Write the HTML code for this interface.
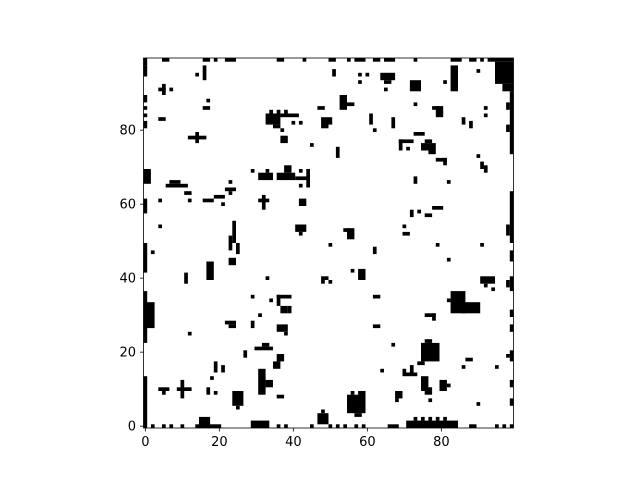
<!DOCTYPE html>
<html><head><meta charset="utf-8"><style>
html,body{margin:0;padding:0;background:#fff;}
svg{display:block;font-family:"DejaVu Sans","Liberation Sans",sans-serif;}
</style></head><body>
<svg id="chart" width="640" height="480" viewBox="0 0 640 480" xmlns="http://www.w3.org/2000/svg">
<rect x="143.5" y="58" width="370" height="370" fill="#fff"/>
<g id="cells"></g>
<rect x="143.5" y="58" width="370" height="370" fill="none" stroke="#000" stroke-width="0.8"/>
<g id="xticks"></g>
<g id="yticks"></g>
</svg>
<script>
// filled blocks as [column, bottom row, width, height] in cell units
const blocksTopLeft = [[0,98,1,2],[0,95,1,3],[0,88,1,2],[0,86,1,1],[0,84,1,1],[0,81,1,2],
[5,99,2,1],[16,99,2,1],[19,99,1,1],[22,99,3,1],[36,99,2,1],[43,99,1,1],
[14,95,1,1],[16,94,1,4],[4,91,2,1],[5,90,1,3],[7,91,1,1],
[17,88,1,1],[16,86,2,1],[4,83,2,1],
[33,82,4,3],[34,85,1,1],[36,85,1,1],[38,85,1,1],[37,84,5,1],[35,81,2,1],
[40,82,1,1],[42,82,1,1],[37,80,1,1],[47,86,2,1],[48,81,2,3],
[12,78,5,1],[14,77,1,3],[37,77,2,2],[45,76,1,1],
[29,69,1,1],[31,67,4,2],[33,69,1,1],[36,67,5,2],[38,69,2,2],[41,67,4,1],[44,65,1,5],[42,69,1,1],[42,65,1,1],
[6,65,6,1],[7,66,3,1],[11,63,2,1],[23,66,1,1],[22,64,3,1],[23,63,1,1],[19,62,3,1],
[4,61,1,1],[12,61,1,1],[16,61,3,1],[21,60,1,1],[31,61,3,1],[32,59,1,4],[42,60,2,2],[0,58,1,4],
[4,54,1,1],[24,50,1,6],[23,50,1,2],[41,53,3,2],[42,52,1,1],[0,66,2,4]];
const blocksTopRight = [[50,99,2,1],[55,99,1,1],[57,99,3,1],[62,99,2,1],[65,99,3,1],[73,99,1,1],[83,99,3,1],[88,99,2,1],[91,99,1,1],[93,99,7,1],
[95,93,5,6],[97,91,3,2],[99,74,1,17],[98,86,1,2],[98,80,1,2],
[51,95,1,2],[58,95,1,1],[60,95,1,1],[58,93,1,1],[64,94,4,2],[65,93,2,1],[65,91,1,1],
[72,91,3,3],[81,93,1,1],[83,91,2,7],[90,96,1,1],
[53,86,2,4],[55,87,2,1],[73,87,1,1],[78,86,2,1],[79,84,2,3],
[92,86,1,1],[92,84,1,1],[50,82,1,2],[61,82,1,3],[67,81,1,3],[86,82,1,2],[88,81,1,2],[62,80,1,1],
[73,79,3,1],[69,75,1,3],[69,77,4,1],[71,75,1,1],[75,75,4,2],[76,77,2,1],[77,74,2,1],
[79,72,3,1],[81,71,1,2],[52,73,1,3],[90,73,1,1],[91,70,1,2],[92,69,1,2],
[73,66,1,2],[82,66,1,1],[78,59,3,1],[72,57,1,2],[74,58,1,1],[76,57,2,1],
[54,53,2,1],[55,51,2,3],[70,54,1,1],[70,52,2,1],[99,50,1,14],[98,52,1,3]];
const blocksBottomLeft = [[0,42,1,8],[0,23,1,14],[0,27,3,7],[0,10,1,4],[0,0,1,10],
[2,47,1,1],[23,48,1,2],[25,47,1,3],[23,44,2,2],[17,40,2,5],[11,39,1,3],[33,40,1,1],
[36,35,4,1],[36,33,1,3],[37,31,2,2],[39,31,1,2],[29,35,1,1],[34,34,1,1],[31,30,1,1],
[22,28,3,1],[23,27,2,1],[29,27,1,2],[36,26,3,2],[38,25,1,1],[12,25,1,1],[48,40,2,1],[48,39,1,1],
[30,21,5,1],[32,22,2,1],[27,19,1,2],[35,16,2,2],[36,18,2,2],
[19,15,1,3],[21,15,1,2],[31,9,2,7],[33,11,2,2],[18,13,1,1],
[4,10,3,1],[5,9,1,1],[9,10,4,1],[10,8,1,5],[17,9,1,2],[19,9,1,1],
[24,6,3,4],[25,5,1,1],[36,8,2,1],[47,1,3,3],[48,4,1,1],
[15,0,3,3],[14,0,7,1],[29,0,5,2],[2,0,1,1],[5,0,1,1],[7,0,1,1],[10,0,1,1],[36,0,1,1],[38,0,1,1],[45,0,1,1]];
const blocksBottomRight = [[50,49,1,1],[62,47,1,2],[79,49,1,1],[91,49,1,1],[82,45,1,1],[56,42,1,1],[58,40,2,3],[50,39,1,1],
[91,39,4,2],[92,38,1,1],[94,37,1,1],[62,35,2,1],[83,31,4,6],[86,31,5,3],[82,34,1,1],
[76,30,3,1],[78,29,1,2],[62,27,2,1],[67,22,1,1],[75,18,5,5],[76,23,2,1],[74,17,2,1],[87,18,2,1],[86,16,1,1],[95,16,1,1],[64,15,1,1],
[70,14,4,1],[70,15,1,1],[72,15,1,2],[75,10,2,4],[76,9,2,2],[80,10,2,3],[82,11,1,1],[77,7,1,1],
[68,8,2,2],[68,7,1,1],[55,4,5,5],[58,8,2,2],[57,3,2,1],[56,9,1,1],[90,6,1,1],
[71,0,14,2],[73,2,1,1],[75,2,1,1],[77,2,1,1],[79,2,1,1],[81,2,1,1],
[50,0,1,1],[52,0,1,1],[54,0,1,1],[57,0,1,1],[59,0,1,1],[66,0,3,1],[88,0,2,1],[95,0,1,1],[97,0,1,1],
[99,45,1,3],[99,37,1,4],[98,38,1,2],[99,18,1,3],[98,19,1,1],[99,11,1,2],[99,6,1,2],[99,0,1,1],[99,26,1,2],[99,30,1,2]];
const xTickVals = [0,20,40,60,80];
const yTickVals = [0,20,40,60,80];

const ns = "http://www.w3.org/2000/svg";
const X0 = 143.5, Y0 = 428, CELL = 3.7;
const xScale = c => X0 + c * CELL;          // left edge of column c
const yScale = r => Y0 - r * CELL;          // bottom edge of row r
const xCenter = c => xScale(c + 0.5);
const yCenter = r => yScale(r + 0.5);

const cells = document.getElementById('cells');
[blocksTopLeft, blocksTopRight, blocksBottomLeft, blocksBottomRight].forEach(list => {
  list.forEach(b => {
    const r = document.createElementNS(ns, 'rect');
    
    
    r.setAttribute('x', xScale(b[0]));
    r.setAttribute('y', yScale(b[1] + b[3]));
    r.setAttribute('width', b[2] * CELL);
    r.setAttribute('height', b[3] * CELL);
    r.setAttribute('fill', '#000');
    cells.appendChild(r);
  });
});

const xt = document.getElementById('xticks');
xTickVals.forEach(v => {
  const x = xCenter(v);
  const l = document.createElementNS(ns, 'line');
  
  
  l.setAttribute('x1', x); l.setAttribute('x2', x);
  l.setAttribute('y1', 428); l.setAttribute('y2', 431.5);
  l.setAttribute('stroke', '#000'); l.setAttribute('stroke-width', '0.8');
  xt.appendChild(l);
  const t = document.createElementNS(ns, 'text');
  
  
  t.setAttribute('x', x); t.setAttribute('y', 446);
  t.setAttribute('text-anchor', 'middle'); t.setAttribute('font-size', '13');
  t.textContent = v;
  xt.appendChild(t);
});

const yt = document.getElementById('yticks');
yTickVals.forEach(v => {
  const y = yCenter(v);
  const l = document.createElementNS(ns, 'line');
  
  
  l.setAttribute('x1', 140); l.setAttribute('x2', 143.5);
  l.setAttribute('y1', y); l.setAttribute('y2', y);
  l.setAttribute('stroke', '#000'); l.setAttribute('stroke-width', '0.8');
  yt.appendChild(l);
  const t = document.createElementNS(ns, 'text');
  
  
  t.setAttribute('x', 136); t.setAttribute('y', y + 4.5);
  t.setAttribute('text-anchor', 'end'); t.setAttribute('font-size', '13');
  t.textContent = v;
  yt.appendChild(t);
});
</script>
</body></html>
